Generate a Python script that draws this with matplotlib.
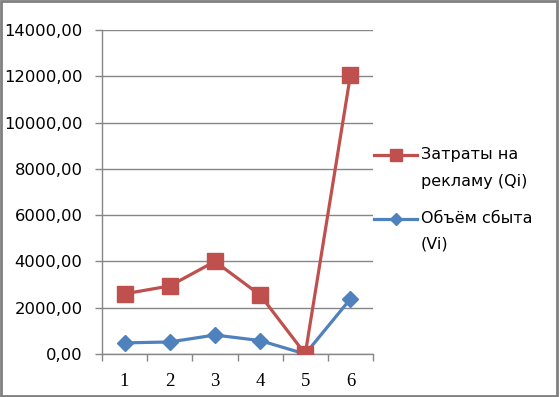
import matplotlib.pyplot as plt
from matplotlib.lines import Line2D
from matplotlib.patches import Rectangle
from matplotlib.ticker import FixedLocator, FuncFormatter

# data
periods = [1, 2, 3, 4, 5, 6]
zatraty = [2600, 2940, 4000, 2550, 0, 12050]   # Затраты на рекламу (Qi)
obem = [480, 520, 820, 580, 0, 2380]           # Объём сбыта (Vi)
y_ticks = [0, 2000, 4000, 6000, 8000, 10000, 12000, 14000]

red = '#C0504D'
blue = '#4F81BD'
grid_c = '#868686'

fig = plt.figure(figsize=(5.6, 3.97), dpi=100)
ax = fig.add_axes([102 / 560, 1 - 354 / 397, 271 / 560, 324 / 397])

ax.plot(periods, obem, color=blue, lw=2.3, marker='D', ms=8.2,
        mec=blue, mfc=blue, solid_joinstyle='round', zorder=3)
ax.plot(periods, zatraty, color=red, lw=2.3, marker='s', ms=12,
        mec=red, mfc=red, solid_joinstyle='round', zorder=4)

ax.set_xlim(0.5, 6.5)
ax.set_ylim(0, 14000)
ax.set_yticks(y_ticks)
ax.yaxis.set_major_formatter(FuncFormatter(lambda v, p: '{:.2f}'.format(v).replace('.', ',')))
ax.set_xticks(periods)
ax.set_xticklabels([str(p) for p in periods], family='Liberation Serif', fontsize=13.5)
ax.xaxis.set_minor_locator(FixedLocator([0.5 + i for i in range(7)]))
ax.tick_params(axis='x', which='major', length=0, pad=14)
ax.tick_params(axis='x', which='minor', length=5, width=1, color=grid_c, direction='out')
ax.tick_params(axis='y', length=5, width=1, color=grid_c, pad=9)
for lab in ax.get_yticklabels():
    lab.set_fontsize(11.8)
    lab.set_family('DejaVu Sans')

ax.grid(axis='y', color=grid_c, lw=1)
ax.set_axisbelow(True)
for s in ['top', 'right']:
    ax.spines[s].set_visible(False)
for s in ['left', 'bottom']:
    ax.spines[s].set_color(grid_c)
    ax.spines[s].set_linewidth(1)

# legend drawn by hand so the marker sits on the first text line
def fy(py):
    return 1 - py / 397

def fx(px):
    return px / 560

fig.add_artist(Line2D([fx(374), fx(417)], [fy(155), fy(155)], color=red, lw=2.3))
fig.add_artist(Line2D([fx(395.5)], [fy(155)], color=red, marker='s', ms=8.5, mec=red))
fig.text(fx(421), fy(155), 'Затраты на', fontsize=11.5, va='center', ha='left')
fig.text(fx(421), fy(181), 'рекламу (Qi)', fontsize=11.5, va='center', ha='left')

fig.add_artist(Line2D([fx(374), fx(417)], [fy(219), fy(219)], color=blue, lw=2.3))
fig.add_artist(Line2D([fx(395.5)], [fy(219)], color=blue, marker='D', ms=6, mec=blue))
fig.text(fx(421), fy(219), 'Объём сбыта', fontsize=11.5, va='center', ha='left')
fig.text(fx(421), fy(244), '(Vi)', fontsize=11.5, va='center', ha='left')

# outer frame
fig.add_artist(Rectangle((0.001, 0.003), 0.994, 0.994, transform=fig.transFigure,
                         fill=False, ec='#808080', lw=2))

fig.savefig('out.png', dpi=100)
